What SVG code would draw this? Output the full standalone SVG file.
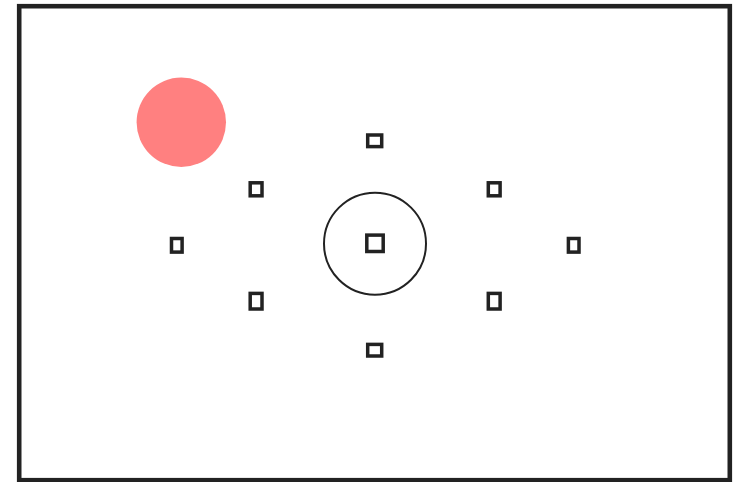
<svg xmlns="http://www.w3.org/2000/svg" width="738" height="482" viewBox="0 0 738 482">
<style>
.pt{fill:#fff;stroke:#222;stroke-width:3.5}
.frame{fill:#fff;stroke:#222;stroke-width:4.6}
</style>
<rect class="frame" x="19.2" y="6.2" width="710.6" height="474"/>
<circle id="red" cx="181.3" cy="122.3" r="44.7" fill="#ff8080"/>
<g id="center-circle"><circle cx="375" cy="243.7" r="51" fill="none" stroke="#222" stroke-width="2"/></g>
<g id="p-center"><rect class="pt" x="366.8" y="235.1" width="16.4" height="16.4"/></g>
<g id="p-top"><rect class="pt" x="367.7" y="135" width="14" height="11.6"/></g>
<g id="p-bottom"><rect class="pt" x="367.7" y="344.4" width="14" height="11.6"/></g>
<g id="p-ul"><rect class="pt" x="250.2" y="182.8" width="11.8" height="13"/></g>
<g id="p-ur"><rect class="pt" x="488.3" y="182.8" width="11.8" height="13"/></g>
<g id="p-ll"><rect class="pt" x="250.2" y="293.4" width="11.8" height="15.6"/></g>
<g id="p-lr"><rect class="pt" x="488.3" y="293.4" width="11.8" height="15.6"/></g>
<g id="p-left"><rect class="pt" x="171.5" y="238.5" width="10.6" height="13.6"/></g>
<g id="p-right"><rect class="pt" x="568.4" y="238.5" width="10.6" height="13.6"/></g>
<g id="connectors"></g>
</svg>
